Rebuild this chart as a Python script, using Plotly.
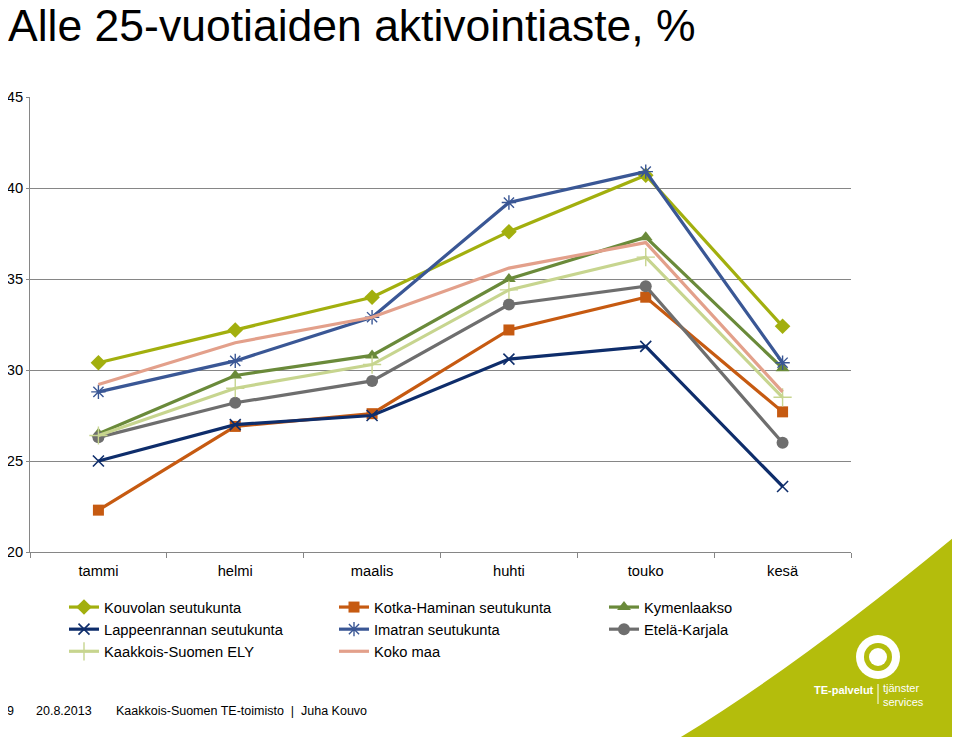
import plotly.graph_objects as go

months = ["tammi", "helmi", "maalis", "huhti", "touko", "kesä"]

kouvola = [30.4, 32.2, 34.0, 37.6, 40.7, 32.4]
kotka = [22.3, 26.9, 27.6, 32.2, 34.0, 27.7]
kymenlaakso = [26.5, 29.7, 30.8, 35.0, 37.3, 30.1]
lappeenranta = [25.0, 27.0, 27.5, 30.6, 31.3, 23.6]
imatra = [28.8, 30.5, 32.9, 39.2, 40.9, 30.4]
etela_karjala = [26.3, 28.2, 29.4, 33.6, 34.6, 26.0]
kaakkois_ely = [26.4, 29.0, 30.3, 34.4, 36.2, 28.5]
koko_maa = [29.2, 31.5, 32.9, 35.6, 37.0, 28.8]

y_ticks = [20, 25, 30, 35, 40, 45]

FONT = "Liberation Sans, Arial, sans-serif"

series = [
    ("Kouvolan seutukunta", kouvola, "#A2AF0E", dict(symbol="diamond", size=12)),
    ("Kotka-Haminan seutukunta", kotka, "#C65A11", dict(symbol="square", size=11)),
    ("Kymenlaakso", kymenlaakso, "#6A8A3A", dict(symbol="triangle-up", size=12)),
    ("Lappeenrannan seutukunta", lappeenranta, "#0E2D6B", dict(symbol="x-thin-open", size=11, line=dict(width=1.6, color="#0E2D6B"))),
    ("Imatran seutukunta", imatra, "#3A5795", dict(symbol="asterisk-open", size=12, line=dict(width=1.4, color="#3A5795"))),
    ("Etelä-Karjala", etela_karjala, "#6E6E6E", dict(symbol="circle", size=12)),
    ("Kaakkois-Suomen ELY", kaakkois_ely, "#C7D58F", dict(symbol="cross-thin-open", size=13, line=dict(width=1.4, color="#C7D58F"))),
    ("Koko maa", koko_maa, "#E3A08B", None),
]

fig = go.Figure()
for name, vals, color, marker in series:
    if marker is None:
        fig.add_trace(go.Scatter(x=months, y=vals, name=name, mode="lines",
                                 line=dict(color=color, width=3.2)))
    else:
        m = dict(color=color)
        m.update(marker)
        fig.add_trace(go.Scatter(x=months, y=vals, name=name, mode="lines+markers",
                                 line=dict(color=color, width=3.2), marker=m))

# page is offset by the default 8px body margin; work in page pixels
OFF = 8
W, H = 952, 729
L, T = 30 - OFF, 97 - OFF
pw, ph = 821, 455
R, B = W - L - pw, H - T - ph


def px(x):
    return (x - OFF - L) / pw


def py(y):
    return (H - B - (y - OFF)) / ph


GREEN = "#B4BD0C"
shapes = []
# green corner background
x1, y1 = px(960), py(532)
x2, y2 = px(676), py(740)
xc, yc = px(800), py(665)
x3, y3 = px(960), py(740)
shapes.append(dict(type="path", xref="paper", yref="paper", layer="below",
                   path=f"M {x1} {y1} Q {xc} {yc} {x2} {y2} L {x3} {y3} Z",
                   fillcolor=GREEN, line=dict(width=0)))
# logo emblem
cx, cy = 878, 657


def circ(r, color):
    return dict(type="circle", xref="paper", yref="paper", layer="below",
                x0=px(cx - r), x1=px(cx + r), y0=py(cy + r), y1=py(cy - r),
                fillcolor=color, line=dict(width=0))


shapes.append(circ(22, "white"))
shapes.append(circ(14, GREEN))
shapes.append(circ(9, "white"))

annotations = [
    dict(text="9", x=px(5), y=py(711), xref="paper", yref="paper", xanchor="left",
         yanchor="middle", showarrow=False, font=dict(size=12.5, color="black", family=FONT)),
    dict(text="20.8.2013", x=px(34), y=py(711), xref="paper", yref="paper", xanchor="left",
         yanchor="middle", showarrow=False, font=dict(size=12.5, color="black", family=FONT)),
    dict(text="Kaakkois-Suomen TE-toimisto  |  Juha Kouvo", x=px(114), y=py(711), xref="paper",
         yref="paper", xanchor="left", yanchor="middle", showarrow=False,
         font=dict(size=12.5, color="black", family=FONT)),
    dict(text="<b>TE-palvelut</b>", x=px(876), y=py(690), xref="paper", yref="paper",
         xanchor="right", yanchor="middle", showarrow=False,
         font=dict(size=11, color="white", family=FONT)),
    dict(text="tjänster<br>services", x=px(881), y=py(695), xref="paper", yref="paper",
         xanchor="left", yanchor="middle", showarrow=False, align="left",
         font=dict(size=11, color="white", family=FONT)),
]
shapes.append(dict(type="line", xref="paper", yref="paper", layer="below",
                   x0=px(878), x1=px(878), y0=py(684), y1=py(704),
                   line=dict(color="white", width=1)))

fig.update_layout(
    width=W, height=H,
    margin=dict(l=L, r=R, t=T, b=B, autoexpand=False),
    paper_bgcolor="white", plot_bgcolor="white",
    font=dict(family=FONT, color="black", size=14.7),
    title=dict(text="Alle 25-vuotiaiden aktivointiaste, %", x=0, xref="container",
               xanchor="left", y=1 - 17 / H, yref="container", yanchor="middle",
               font=dict(size=44.5, color="black", family=FONT)),
    xaxis=dict(type="category", range=[-0.5, 5.5], showgrid=False, showline=True,
               linecolor="#868686", linewidth=1, ticks="outside", tickson="boundaries",
               ticklen=5, tickcolor="#868686", tickfont=dict(size=14.7), zeroline=False,
               ticklabelstandoff=5),
    yaxis=dict(range=[20, 45], tickvals=y_ticks, showgrid=True, gridcolor="#868686",
               gridwidth=1, showline=True, linecolor="#868686", linewidth=1,
               ticks="outside", ticklen=3, tickcolor="#868686", zeroline=False,
               tickfont=dict(size=14.7)),
    legend=dict(orientation="h", x=px(64), y=py(591), xanchor="left", yanchor="top",
                entrywidth=225, entrywidthmode="pixels", bgcolor="rgba(0,0,0,0)",
                font=dict(size=14.7), itemclick=False, tracegroupgap=0),
    shapes=shapes,
    annotations=annotations,
    showlegend=True,
)

fig.write_html("out.html")
